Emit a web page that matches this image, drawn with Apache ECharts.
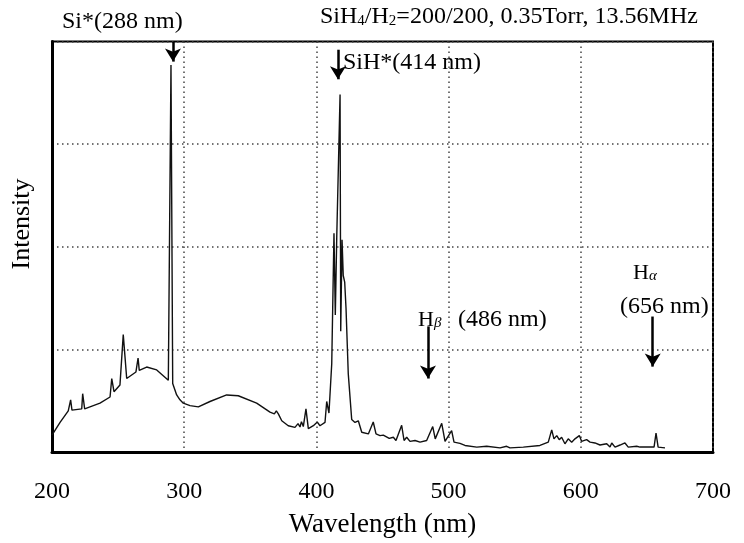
<!DOCTYPE html>
<html><head><meta charset="utf-8">
<script src="https://cdn.jsdelivr.net/npm/echarts@6/dist/echarts.min.js"></script>
<style>html,body{margin:0;padding:0;background:#fff;overflow:hidden}#c{width:744px;height:543px}</style>
</head><body><div id="c"></div>
<script>
const wavelength = [
 200.0, 206.1, 212.3, 214.1, 215.1, 222.5, 223.2, 224.7, 236.3, 243.9,
 245.2, 246.9, 251.4, 253.9, 256.5, 263.5, 265.1, 266.0, 271.6, 279.2,
 288.0, 288.9, 290.0, 291.3, 294.3, 296.8, 299.3, 304.4, 310.7, 319.5,
 332.1, 340.9, 354.8, 364.9, 368.2, 369.7, 371.2, 373.8, 378.7, 383.8,
 386.1, 387.6, 388.7, 390.1, 392.1, 393.9, 397.7, 400.7, 402.7, 406.5,
 407.8, 409.5, 411.6, 413.3, 414.3, 415.4, 417.9, 418.4, 419.4, 420.3,
 421.4, 422.4, 424.1, 426.7, 429.2, 431.7, 434.3, 439.3, 443.0, 445.1,
 448.1, 450.6, 455.1, 458.2, 460.2, 464.5, 466.3, 468.3, 470.8, 474.6,
 478.4, 483.4, 488.0, 489.9, 494.8, 497.3, 502.3, 504.1, 508.6, 512.4,
 521.3, 528.8, 538.9, 543.9, 546.4, 556.5, 569.1, 575.4, 578.0, 579.7,
 581.8, 583.7, 585.5, 588.0, 590.5, 593.1, 595.6, 598.9, 600.6, 604.4,
 607.0, 610.7, 614.5, 619.6, 622.1, 623.4, 625.9, 629.7, 633.4, 635.9,
 642.3, 644.8, 655.4, 656.9, 658.5, 663.7
];
const intensity = [
 4.1, 7.2, 10.0, 12.7, 10.2, 10.5, 14.2, 10.5, 11.9, 13.4,
 17.9, 14.7, 16.3, 28.6, 17.9, 19.5, 22.9, 19.9, 20.7, 20.0,
 17.5, 17.4, 94.3, 16.7, 13.9, 12.7, 11.9, 11.3, 11.0, 12.3,
 13.9, 13.7, 11.9, 9.7, 9.3, 10.0, 9.3, 7.6, 6.4, 6.0,
 6.9, 6.1, 7.4, 6.2, 10.5, 5.7, 6.4, 7.3, 6.4, 7.2,
 12.3, 9.5, 21.5, 53.3, 33.4, 52.5, 87.1, 29.4, 51.7, 43.0,
 41.4, 35.1, 19.1, 7.9, 7.2, 7.6, 4.8, 4.4, 7.3, 4.4,
 4.0, 4.1, 3.3, 3.6, 2.8, 6.5, 2.8, 3.6, 2.6, 2.8,
 2.4, 2.8, 6.2, 3.2, 7.0, 2.6, 5.2, 2.4, 2.1, 1.6,
 1.2, 1.4, 1.0, 1.4, 1.0, 1.2, 1.6, 2.4, 5.4, 3.2,
 4.0, 3.0, 3.6, 2.0, 3.2, 2.4, 3.2, 4.0, 2.6, 3.0,
 2.4, 2.2, 1.7, 2.0, 1.2, 2.2, 1.2, 1.7, 2.2, 1.2,
 1.4, 1.2, 1.2, 4.6, 1.2, 1.0
];
const xTicks = [200, 300, 400, 500, 600, 700];
// annotation arrows (wavelength, start intensity, tip intensity)
const arrowX = [291.5, 416.3, 484.4, 654.4];
const arrowTop = [99.9, 98.0, 30.6, 33.0];
const arrowTip = [95.1, 90.8, 17.9, 20.8];

const FONT = '"Liberation Serif", "Times New Roman", serif';
const chart = echarts.init(document.getElementById('c'), null, {renderer: 'canvas', width: 744, height: 543});
const dotted = {type: [1.5, 3.5], color: '#444', width: 1.5};
chart.setOption({
  animation: false,
  backgroundColor: '#fff',
  grid: {left: 52, top: 41.5, width: 661, height: 418, show: true, borderColor: '#000', borderWidth: 2},
  xAxis: {
    type: 'value', min: xTicks[0], max: xTicks[xTicks.length - 1], interval: 100,
    axisLine: {show: true, lineStyle: {color: '#000', width: 3}},
    axisTick: {show: false},
    axisLabel: {color: '#000', fontFamily: FONT, fontSize: 24, margin: 28},
    splitLine: {show: true, lineStyle: dotted},
    name: 'Wavelength (nm)', nameLocation: 'middle', nameGap: 59,
    nameTextStyle: {color: '#000', fontFamily: FONT, fontSize: 27}
  },
  yAxis: {
    type: 'value', min: 0, max: 100, interval: 25,
    axisLine: {show: true, lineStyle: {color: '#000', width: 3}},
    axisTick: {show: false},
    axisLabel: {show: false},
    splitLine: {show: true, lineStyle: dotted}
  },
  series: [{
    type: 'line',
    data: wavelength.map((w, i) => [w, intensity[i]]),
    showSymbol: false, symbol: 'none',
    lineStyle: {color: '#111', width: 1.4},
    markLine: {
      silent: true, animation: false,
      symbol: ['none', 'arrow'], symbolSize: [12, 13],
      lineStyle: {color: '#000', width: 2.5, type: 'solid'},
      label: {show: false},
      emphasis: {disabled: true},
      data: arrowX.map((x, i) => [{coord: [x, arrowTop[i]]}, {coord: [x, arrowTip[i]]}])
    }
  }],
  graphic: [
    {type: 'text', x: 22, y: 224, rotation: Math.PI / 2,
     style: {text: 'Intensity', font: '26px ' + FONT, fill: '#000', align: 'center', verticalAlign: 'middle'}},
    {type: 'text', x: 62, y: 22,
     style: {text: 'Si*(288 nm)', font: '24px ' + FONT, fill: '#000', verticalAlign: 'middle'}},
    {type: 'text', x: 320, y: 17,
     style: {text: '{a|SiH}{s|4}{a|/H}{s|2}{a|=200/200, 0.35Torr, 13.56MHz}', fill: '#000', verticalAlign: 'middle',
       rich: {a: {fontFamily: FONT, fontSize: 24, lineHeight: 24, verticalAlign: 'bottom'},
              s: {fontFamily: FONT, fontSize: 15, lineHeight: 14, verticalAlign: 'bottom'}}}},
    {type: 'text', x: 343, y: 63,
     style: {text: 'SiH*(414 nm)', font: '24px ' + FONT, fill: '#000', verticalAlign: 'middle'}},
    {type: 'text', x: 418, y: 320,
     style: {text: '{a|H}{g|β}', fill: '#000', verticalAlign: 'middle',
       rich: {a: {fontFamily: FONT, fontSize: 22, lineHeight: 22, verticalAlign: 'bottom'},
              g: {fontFamily: FONT, fontStyle: 'italic', fontSize: 15, lineHeight: 16, verticalAlign: 'bottom'}}}},
    {type: 'text', x: 458, y: 320,
     style: {text: '(486 nm)', font: '24px ' + FONT, fill: '#000', verticalAlign: 'middle'}},
    {type: 'text', x: 633, y: 273,
     style: {text: '{a|H}{g|α}', fill: '#000', verticalAlign: 'middle',
       rich: {a: {fontFamily: FONT, fontSize: 22, lineHeight: 22, verticalAlign: 'bottom'},
              g: {fontFamily: FONT, fontStyle: 'italic', fontSize: 15, lineHeight: 16, verticalAlign: 'bottom'}}}},
    {type: 'text', x: 620, y: 307,
     style: {text: '(656 nm)', font: '24px ' + FONT, fill: '#000', verticalAlign: 'middle'}}
  ]
});
</script>
</body></html>
